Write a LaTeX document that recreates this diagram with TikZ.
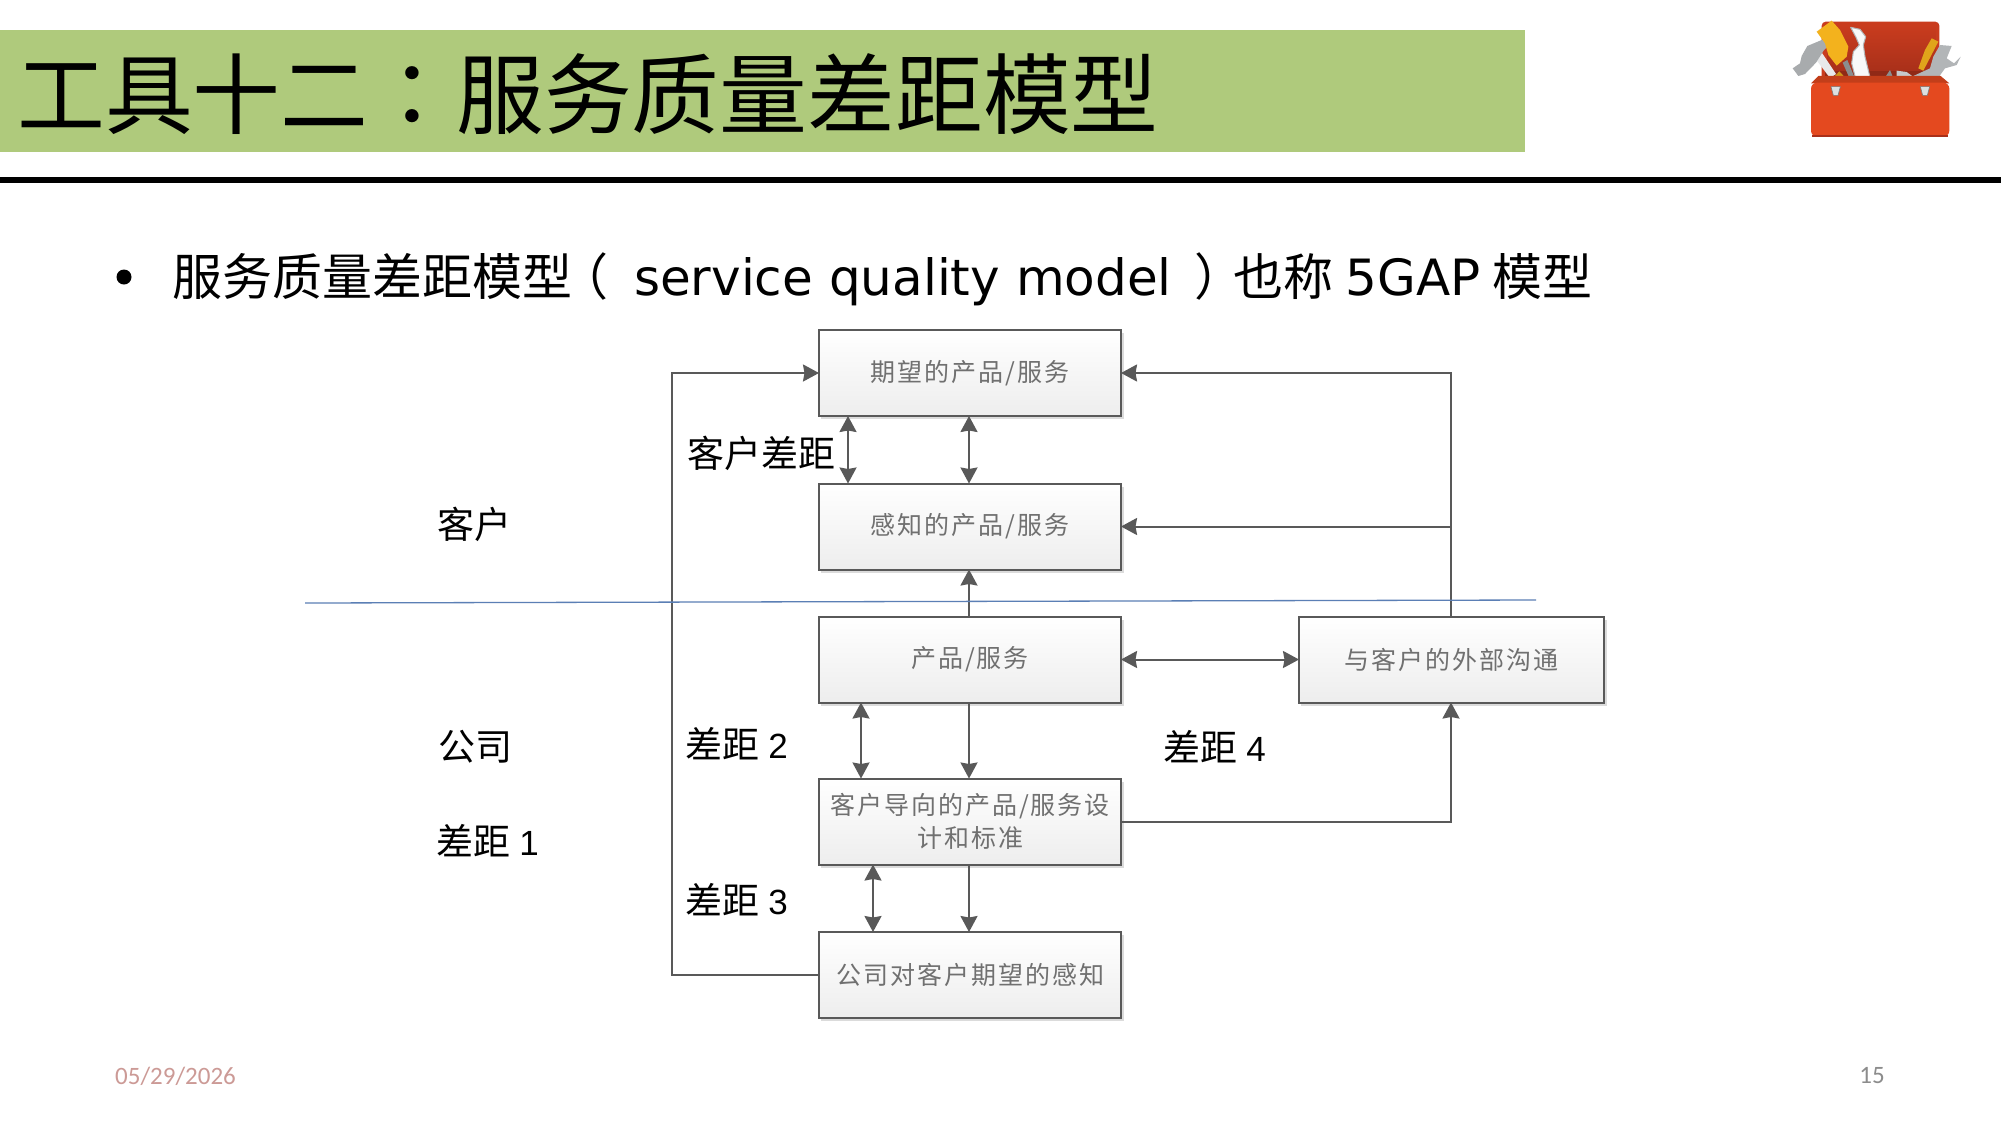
\documentclass[tikz,border=0pt]{standalone}
\usepackage{fontspec}
\usetikzlibrary{arrows.meta}
\setmainfont{DejaVu Sans}
\newfontfamily\cjk{Noto Sans CJK SC}
\newfontfamily\cjktc{Noto Sans CJK TC}
\newfontfamily\boxcjk[LetterSpace=8]{Noto Sans CJK SC}
\newfontfamily\footfont{Carlito}
\newfontfamily\digits{Liberation Sans}
\newcommand{\gapnum}[1]{{\cjk 差距}\hspace{0.25em}{\digits\fontsize{35}{40}\selectfont #1}}
\definecolor{band}{HTML}{AFCA7C}
\definecolor{ink}{HTML}{595959}
\definecolor{boxtext}{HTML}{707070}
\definecolor{divider}{HTML}{5B7FB5}
\definecolor{datecol}{HTML}{CC9A96}
\definecolor{numcol}{HTML}{8C8C8C}
\definecolor{boxred}{HTML}{E4491F}
\definecolor{lidred}{HTML}{C93C1E}
\definecolor{innerred}{HTML}{A9301A}
\definecolor{tool}{HTML}{C6C9CB}
\definecolor{toolyellow}{HTML}{F3B21D}
\tikzset{
  flowbox/.style={draw=ink,line width=2pt,top color=white,bottom color=black!7,
    minimum width=302pt,minimum height=86pt,inner sep=0pt,outer sep=0pt,
    align=center,text=boxtext,font=\boxcjk\fontsize{25}{33}\selectfont},
  link/.style={draw=ink,line width=2pt},
  arr/.style={link,-{Stealth[length=16pt,width=17pt,inset=1.5pt]}},
  biarr/.style={link,{Stealth[length=16pt,width=17pt,inset=1.5pt]}-{Stealth[length=16pt,width=17pt,inset=1.5pt]}},
  gaplabel/.style={anchor=west,inner sep=0pt,font=\fontsize{37}{40}\selectfont,text=black},
}
\begin{document}
\begin{tikzpicture}[x=1pt,y=-1pt]
\useasboundingbox[fill=white] (0,0) rectangle (2001,1125);

% heading band and rule
\fill[band] (0,30) rectangle (1525,152);
\node[anchor=west,inner sep=0pt] (title) at (17,94.5)
  {\fontsize{87.8}{96}\selectfont\cjk 工具十二\cjktc ：\cjk 服务质量差距模型};
\fill[black] (0,176.5) rectangle (2001,182.5);

% bullet line
\node[circle,fill=black,inner sep=0pt,minimum size=15pt] (dot) at (124,277) {};
\node[anchor=base west,inner sep=0pt] (lead) at (172,295.5)
  {\fontsize{50}{56}\selectfont{\cjk 服务质量差距模型}\hspace{-14pt}{\cjktc （}\hspace{14pt}\hspace{-0.08em} service quality model\hspace{-0.08em} \hspace{11pt}{\cjktc ）}\hspace{-11pt}{\cjk 也称}\hspace{-0.08em} 5GAP\hspace{-0.08em} {\cjk 模型}};

% toolbox pictogram, laid out on a finer local grid
\begin{scope}[shift={(1750,0)},x=0.3333pt,y=-0.3333pt,line join=round]
  % open lid
  \fill[lidred,rounded corners=4pt] (215,65) rectangle (568,240);
  \shade[top color=lidred,bottom color=innerred] (232,75) rectangle (556,212);
  \fill[innerred!85!black] (225,212) rectangle (560,240);
  % hammer
  \fill[tool!40!white] (190,168) -- (210,150) -- (258,222) -- (240,234) -- cycle;
  \fill[tool!85!black] (128,205) -- (145,228) -- (165,222) -- (198,188) -- (222,150) -- (250,125) -- (215,120) -- (172,138) -- (155,168) -- (150,190) -- cycle;
  % large screwdriver
  \fill[tool!70!black] (278,188) -- (300,238) -- (316,238) -- (292,180) -- cycle;
  \fill[toolyellow] (200,95) -- (245,62) -- (270,90) -- (295,140) -- (290,170) -- (260,197) -- (235,165) -- (225,130) -- cycle;
  \fill[toolyellow!85!black] (245,238) -- (268,214) -- (292,240) -- cycle;
  % spanner beside it
  \fill[white!88!tool,draw=tool!90!black,line width=1pt] (302,82) -- (330,88) -- (347,110) -- (340,135) -- (345,170) -- (362,240) -- (318,240) -- (305,190) -- (310,155) -- (328,135) -- (318,112) -- cycle;
  % small screwdriver, trowel and right spanner
  \fill[tool!70!black] (400,240) -- (420,210) -- (432,240) -- cycle;
  \fill[tool] (440,212) -- (470,216) -- (500,238) -- (440,240) -- cycle;
  \fill[tool!90!black] (490,240) -- (560,240) -- (585,205) -- (620,195) -- (632,170) -- (612,190) -- (590,175) -- (605,138) -- (570,135) -- (550,170) -- (540,205) -- (490,228) -- cycle;
  \fill[toolyellow!92!black] (505,205) -- (520,212) -- (565,125) -- (545,115) -- (525,150) -- cycle;
  % box front with latches
  \fill[boxred!85!black] (205,228) -- (572,228) -- (598,250) -- (183,250) -- cycle;
  \fill[boxred,rounded corners=6pt] (183,248) rectangle (598,410);
  \fill[innerred] (186,404) rectangle (595,410);
  \fill[tool!60!white,draw=tool!60!black,line width=.6pt] (243,260) -- (271,260) -- (264,286) -- (250,286) -- cycle;
  \fill[tool!60!white,draw=tool!60!black,line width=.6pt] (511,260) -- (539,260) -- (532,286) -- (518,286) -- cycle;
\end{scope}

% soft drop shadows under the boxes
\foreach \cx/\cy/\w in {970/373/302,970/526.5/302,970/659.5/302,970/821.5/302,970/975/302,1451.5/659.5/305}
  \fill[black!14] (\cx-\w/2+2,\cy-40) rectangle (\cx+\w/2+3,\cy+46);

% flow boxes
\node[flowbox] (expect)  at (970,373) {期望的产品/服务};
\node[flowbox] (perceive) at (970,526.5) {感知的产品/服务};
\node[flowbox] (product) at (970,659.5) {产品/服务};
\node[flowbox] (design)  at (970,821.5) {客户导向的产品/服务设\\计和标准};
\node[flowbox] (company) at (970,975) {公司对客户期望的感知};
\node[flowbox,minimum width=305pt] (external) at (1451.5,659.5) {与客户的外部沟通};

% routing columns
\coordinate (loopx) at (672,0);
\coordinate (gapc) at (848,0);
\coordinate (gapb) at (861,0);
\coordinate (gapt) at (873,0);
\coordinate (rightx) at (1451,0);
\coordinate (midx) at (969,0);

% connectors
\draw[arr] (company.west) -- (company.west -| loopx) -- (expect.west -| loopx) -- (expect.west);
\draw[biarr] (expect.south -| gapc) -- (perceive.north -| gapc);
\draw[biarr] (expect.south -| midx) -- (perceive.north -| midx);
\draw[arr] (product.north -| midx) -- (perceive.south -| midx);
\draw[biarr] (product.south -| gapb) -- (design.north -| gapb);
\draw[arr] (product.south -| midx) -- (design.north -| midx);
\draw[biarr] (design.south -| gapt) -- (company.north -| gapt);
\draw[arr] (design.south -| midx) -- (company.north -| midx);
\draw[biarr] (product.east) -- (external.west);
\draw[arr] (external.north -| rightx) -- (expect.east -| rightx) -- (expect.east);
\draw[arr] (perceive.east -| rightx) -- (perceive.east);
\draw[arr] (design.east) -- (design.east -| rightx) -- (external.south -| rightx);

% boundary between customer and company
\coordinate (divL) at (305,603);
\coordinate (divR) at (1536,600);
\draw[divider,line width=1.3pt] (divL) -- (divR);

% labels
\node[gaplabel] (lcustgap) at (687,453) {\cjk 客户差距};
\node[gaplabel] (lcust) at (437,524) {\cjk 客户};
\node[gaplabel] (lcomp) at (438,747) {\cjk 公司};
\node[gaplabel] (lgap1) at (436,841) {\gapnum{1}};
\node[gaplabel] (lgap2) at (685,744) {\gapnum{2}};
\node[gaplabel] (lgap3) at (685,900) {\gapnum{3}};
\node[gaplabel] (lgap4) at (1163,747) {\gapnum{4}};

% footer
\node[anchor=west,inner sep=0pt,text=datecol,font=\footfont\fontsize{25}{28}\selectfont] (date) at (115,1076) {05/29/2026};
\node[anchor=east,inner sep=0pt,text=numcol,font=\footfont\fontsize{25}{28}\selectfont] (page) at (1885,1076) {15};
\end{tikzpicture}
\end{document}
